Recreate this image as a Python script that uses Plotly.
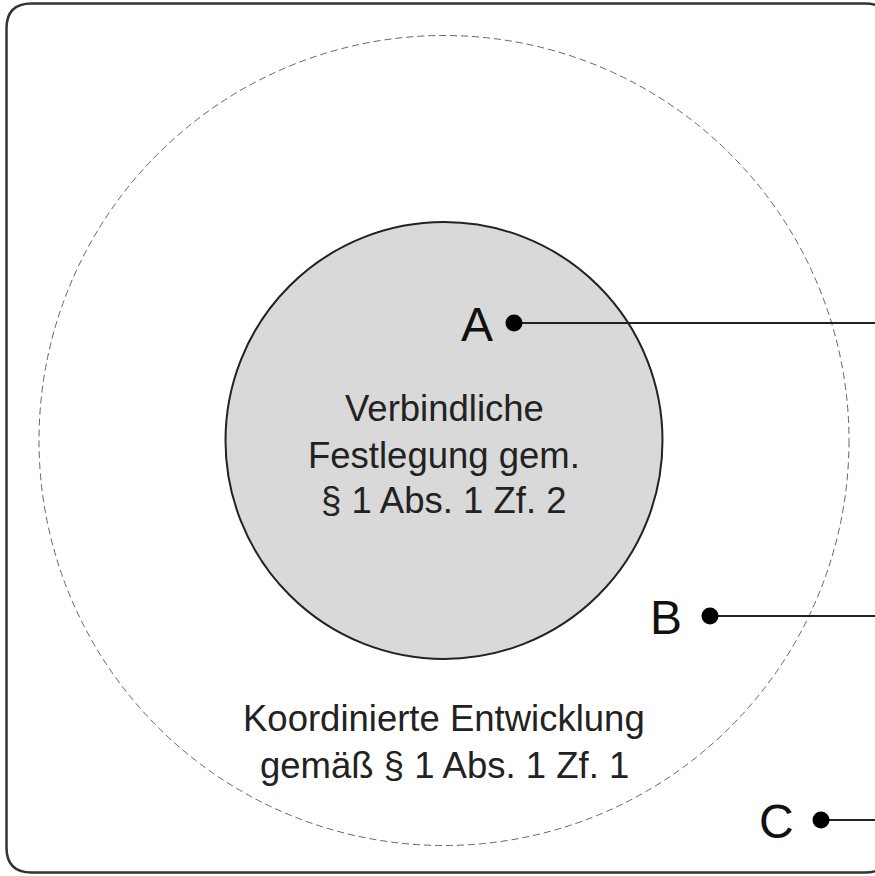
import plotly.graph_objects as go

# --- diagram content ---
point_labels = ["A", "B", "C"]
point_x = [514, 710, 821]
point_y = [323, 616, 820]
label_x = [477, 666, 776]
line_end_x = 900

inner_text = ["Verbindliche", "Festlegung gem.", "§ 1 Abs. 1 Zf. 2"]
inner_text_y = [408, 455, 500]
outer_text = ["Koordinierte Entwicklung", "gemäß § 1 Abs. 1 Zf. 1"]
outer_text_y = [718, 765]

cx, cy = 444, 440.5
inner_r = 218.5
outer_r = 405

FONT = "Liberation Sans, Arial, Helvetica, sans-serif"

fig = go.Figure()

shapes = []
# rounded border
x0, y0, x1, y1, r = 6.5, 3.5, 890, 872.5, 25
path = (f"M {x0+r},{y0} L {x1-r},{y0} Q {x1},{y0} {x1},{y0+r} "
        f"L {x1},{y1-r} Q {x1},{y1} {x1-r},{y1} L {x0+r},{y1} "
        f"Q {x0},{y1} {x0},{y1-r} L {x0},{y0+r} Q {x0},{y0} {x0+r},{y0} Z")
shapes.append(dict(type="path", path=path, xref="x", yref="y",
                   line=dict(color="#333333", width=2.5), fillcolor="rgba(0,0,0,0)", layer="below"))
# outer dashed circle
shapes.append(dict(type="circle", xref="x", yref="y",
                   x0=cx - outer_r, x1=cx + outer_r, y0=cy - outer_r, y1=cy + outer_r,
                   line=dict(color="#666666", width=1, dash="7px,4px"), layer="below"))
# inner filled circle
shapes.append(dict(type="circle", xref="x", yref="y",
                   x0=cx - inner_r, x1=cx + inner_r, y0=cy - inner_r, y1=cy + inner_r,
                   line=dict(color="#222222", width=2), fillcolor="#d9d9d9", layer="below"))
fig.update_layout(shapes=shapes)

# connector lines
for px, py in zip(point_x, point_y):
    fig.add_trace(go.Scatter(x=[px, line_end_x], y=[py, py], mode="lines",
                             line=dict(color="#222222", width=2),
                             hoverinfo="skip", showlegend=False))
# dots
fig.add_trace(go.Scatter(x=point_x, y=point_y, mode="markers",
                         marker=dict(color="black", size=17),
                         hoverinfo="skip", showlegend=False))

annotations = []
for lab, lx, py in zip(point_labels, label_x, point_y):
    annotations.append(dict(x=lx, y=py + 1, xref="x", yref="y", text=lab, showarrow=False,
                            xanchor="center", yanchor="middle",
                            font=dict(family=FONT, size=48, color="#111111")))
for t, ty in zip(inner_text, inner_text_y):
    annotations.append(dict(x=cx, y=ty, xref="x", yref="y", text=t, showarrow=False,
                            xanchor="center", yanchor="middle",
                            font=dict(family=FONT, size=36.5, color="#222222")))
for t, ty in zip(outer_text, outer_text_y):
    annotations.append(dict(x=cx, y=ty, xref="x", yref="y", text=t, showarrow=False,
                            xanchor="center", yanchor="middle",
                            font=dict(family=FONT, size=36.5, color="#222222")))

fig.update_layout(
    annotations=annotations,
    width=875, height=876,
    margin=dict(l=0, r=0, t=0, b=0),
    paper_bgcolor="white", plot_bgcolor="white",
    xaxis=dict(range=[0, 875], visible=False, fixedrange=True),
    yaxis=dict(range=[876, 0], visible=False, fixedrange=True),
    showlegend=False,
)

fig.write_html("out.html", config={"displayModeBar": False},
               post_script="document.body.style.margin='0';document.body.style.overflow='hidden';")
